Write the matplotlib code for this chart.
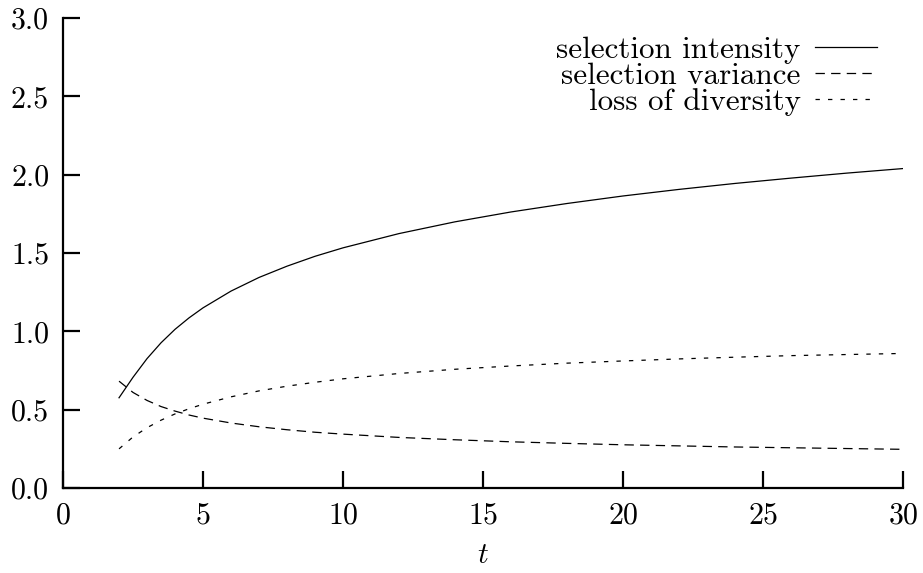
import matplotlib
matplotlib.use("Agg")
import matplotlib.pyplot as plt
from matplotlib.ticker import FormatStrFormatter

# Tournament size and the three selection measures
t_size = [2, 2.5, 3, 3.5, 4, 4.5, 5, 6, 7, 8, 9, 10, 12, 14, 16, 18, 20, 22, 24, 26, 28, 30]
sel_intensity = [0.576, 0.707, 0.826, 0.927, 1.013, 1.086, 1.150, 1.257, 1.344, 1.416, 1.479,
                 1.533, 1.624, 1.699, 1.762, 1.816, 1.864, 1.906, 1.944, 1.978, 2.010, 2.039]
sel_variance = [0.682, 0.610, 0.559, 0.520, 0.491, 0.466, 0.446, 0.415, 0.391, 0.372, 0.356,
                0.344, 0.323, 0.308, 0.295, 0.285, 0.276, 0.269, 0.262, 0.257, 0.252, 0.247]
loss_diversity = [0.250, 0.326, 0.385, 0.433, 0.473, 0.506, 0.535, 0.582, 0.620, 0.650, 0.675,
                  0.697, 0.731, 0.758, 0.779, 0.797, 0.811, 0.824, 0.835, 0.845, 0.852, 0.859]

x_ticks = [0, 5, 10, 15, 20, 25, 30]
y_ticks = [0.0, 0.5, 1.0, 1.5, 2.0, 2.5, 3.0]

plt.rcParams["font.family"] = "cmr10"
plt.rcParams["mathtext.fontset"] = "cm"
plt.rcParams["axes.formatter.use_mathtext"] = True
plt.rcParams["font.size"] = 21.5

fig = plt.figure(figsize=(9.23, 5.73), dpi=100)
ax = fig.add_axes([0.0683, 0.1483, 0.91, 0.8203])

ax.plot(t_size, sel_intensity, color="black", lw=0.9, label="selection intensity")
ax.plot(t_size, sel_variance, color="black", lw=0.9, dashes=(7.5, 5.0),
        label="selection variance")
ax.plot(t_size, loss_diversity, color="black", lw=0.9, dashes=(3.5, 6.5),
        label="loss of diversity")

ax.set_xlim(0, 30)
ax.set_ylim(0, 3.0)
ax.set_xticks(x_ticks)
ax.set_yticks(y_ticks)
ax.yaxis.set_major_formatter(FormatStrFormatter("%.1f"))
ax.set_xlabel("$t$", labelpad=9)

for side in ("top", "right"):
    ax.spines[side].set_visible(False)
for side in ("left", "bottom"):
    ax.spines[side].set_linewidth(1.6)
ax.tick_params(direction="in", length=12, width=1.6, pad=10)

ax.legend(loc="upper right", bbox_to_anchor=(0.969, 0.962), markerfirst=False,
          frameon=False, handlelength=2.0, handletextpad=0.45, labelspacing=-0.05,
          borderpad=0, borderaxespad=0, fontsize=22.4)

fig.savefig("out.png", dpi=100)
